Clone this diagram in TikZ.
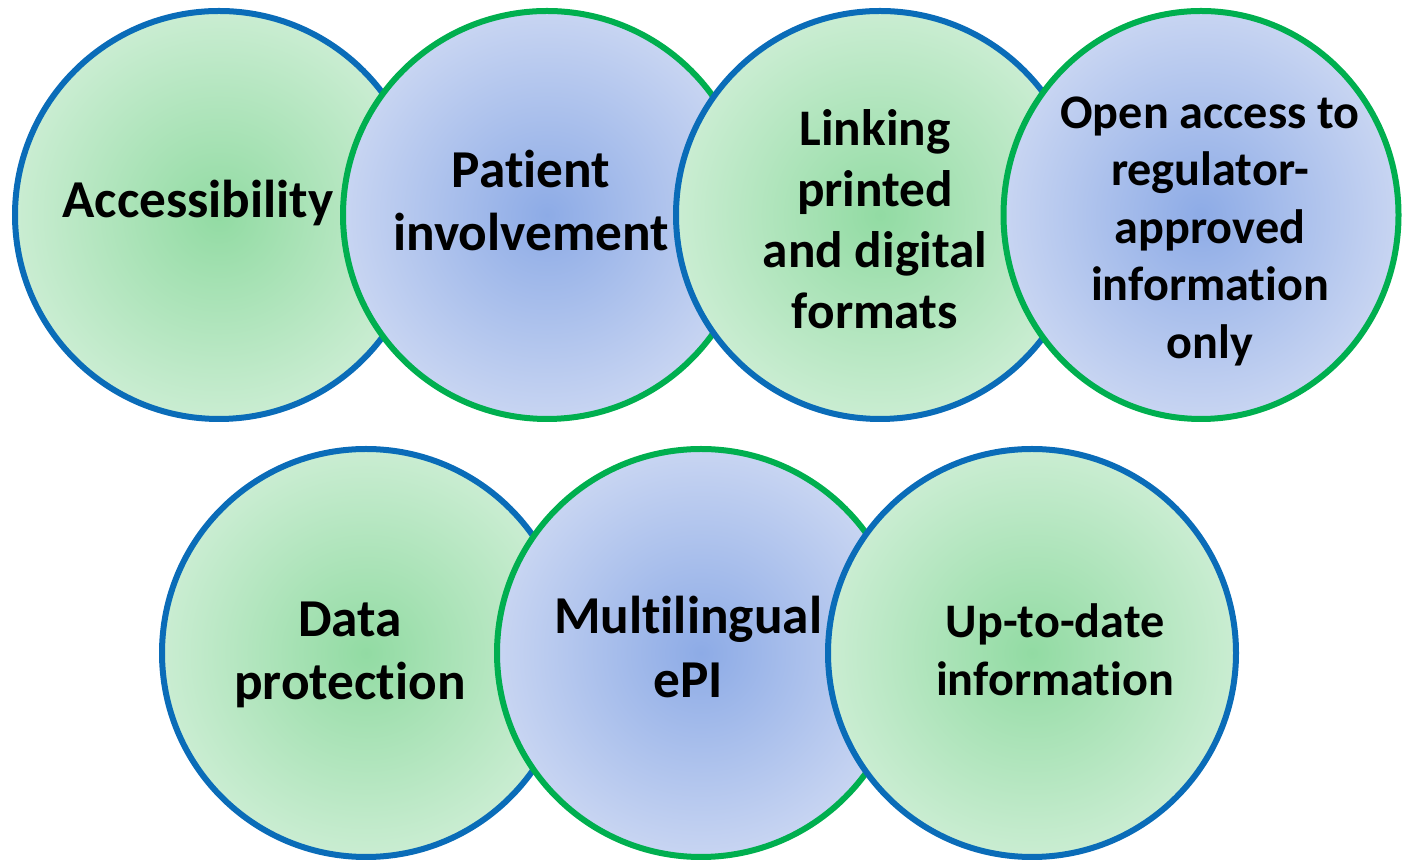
\documentclass[tikz,border=0pt]{standalone}
\usepackage{fontspec}
\setmainfont[Ligatures=NoCommon]{Carlito}
\usetikzlibrary{shapes.geometric}
\definecolor{gin}{HTML}{92DBA3}
\definecolor{gout}{HTML}{CAEDD2}
\definecolor{bin}{HTML}{8DABE6}
\definecolor{bout}{HTML}{C8D5F2}
\definecolor{bline}{HTML}{0A6CB8}
\definecolor{gline}{HTML}{00AF4F}
\tikzset{
  bubble/.style={circle, minimum size=408pt, inner sep=0pt, line width=6pt},
  greenbub/.style={bubble, draw=bline, inner color=gin, outer color=gout},
  bluebub/.style={bubble, draw=gline, inner color=bin, outer color=bout},
  lbl/.style 2 args={align=center, inner sep=0pt, text=black, font=\bfseries\fontsize{#1}{#2}\selectfont}
}
\begin{document}
\begin{tikzpicture}[x=1pt,y=1pt]
\useasboundingbox (0,0) rectangle (1402,861);
\clip (0,0) rectangle (1402,861);
% top row
\node[greenbub] (acc) at (219,646) {};
\node[lbl={53.3}{63}] (acct) at (198,658) {Accessibility};
\node[bluebub] (pat) at (547,646) {};
\node[lbl={53.3}{63}] (patt) at (531,660) {Patient\\involvement};
\node[greenbub] (lnk) at (880,646) {};
\node[lbl={51.3}{61}] (lnkt) at (875,642) {Linking\\printed\\and digital\\formats};
\node[bluebub, ellipse, minimum width=395pt, minimum height=408pt] (opn) at (1201,646) {};
\node[lbl={48.2}{57.5}] (opnt) at (1210,630) {Open access to\\regulator-\\approved\\information\\only};
% bottom row
\node[greenbub] (dat) at (366,208) {};
\node[lbl={53.3}{63}] (datt) at (350,206) {Data\\protection};
\node[bluebub] (mul) at (701,208) {};
\node[lbl={53.3}{64}] (mult) at (688,214) {Multilingual\\ePI};
\node[greenbub] (upd) at (1032,208) {};
\node[lbl={48.2}{58}] (updt) at (1055,211) {Up-to-date\\information};
\end{tikzpicture}
\end{document}
